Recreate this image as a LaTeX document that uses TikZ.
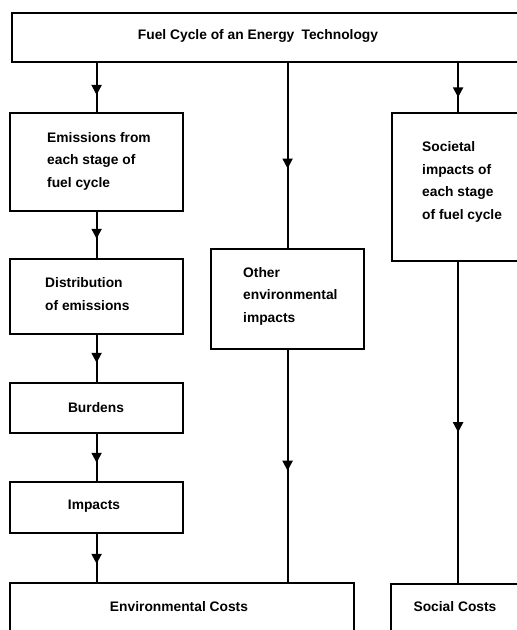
\documentclass[tikz,border=0pt]{standalone}
\usepackage{fontspec}
\setmainfont{Liberation Sans}
\usetikzlibrary{arrows.meta,decorations.markings}

\begin{document}
\begin{tikzpicture}[
  x=1pt, y=-1pt,
  box/.style={draw, line width=2.2pt, rectangle, inner sep=0pt},
  txt/.style={font=\bfseries\fontsize{13.8}{22.5}\selectfont, inner sep=0pt, align=left},
  conn/.style={line width=2pt},
  midarrow/.style={postaction={decorate},
    decoration={markings,
      mark=at position #1 with {\arrow{Triangle[width=10pt,length=10pt]}}}}
]
\useasboundingbox (0,0) rectangle (517,630);
\clip (0,0) rectangle (517,630);

% boxes (corner coordinates; some run past the page edge)
\node[box, minimum width=529pt, minimum height=49pt, anchor=north west] (fuel) at (11,12) {};
\node[box, minimum width=173pt, minimum height=98pt, anchor=north west] (emis) at (9,112) {};
\node[box, minimum width=173pt, minimum height=75pt, anchor=north west] (dist) at (9,258) {};
\node[box, minimum width=173pt, minimum height=50pt, anchor=north west] (burd) at (9,382) {};
\node[box, minimum width=173pt, minimum height=51pt, anchor=north west] (impc) at (9,481) {};
\node[box, minimum width=344pt, minimum height=70pt, anchor=north west] (envc) at (9,582) {};
\node[box, minimum width=153pt, minimum height=100pt, anchor=north west] (other) at (210,248) {};
\node[box, minimum width=132pt, minimum height=148pt, anchor=north west] (soc) at (391,112) {};
\node[box, minimum width=134pt, minimum height=70pt, anchor=north west] (socc) at (390,583) {};

% labels
\node[txt] (fuelT) at (258,36) {Fuel Cycle of an Energy\hspace{0.25em} Technology};
\node[txt, anchor=west] (emisT) at (47,161) {Emissions from\\each stage of\\fuel cycle};
\node[txt, anchor=west] (distT) at (45,294) {Distribution\\of emissions};
\node[txt] (burdT) at (96,408) {Burdens};
\node[txt] (impcT) at (94,506) {Impacts};
\node[txt, anchor=west] (otherT) at (243,296) {Other\\environmental\\impacts};
\node[txt, anchor=west] (socT) at (422,182) {Societal\\impacts of\\each stage\\of fuel cycle};
\node[txt] (envcT) at (179,607) {Environmental Costs};
\node[txt] (soccT) at (455,607) {Social Costs};

% connectors
\draw[conn, midarrow=0.65] (emis.north |- fuel.south) -- (emis.north);
\draw[conn, midarrow=0.58] (emis.south) -- (dist.north);
\draw[conn, midarrow=0.59] (dist.south) -- (burd.north);
\draw[conn, midarrow=0.61] (burd.south) -- (impc.north);
\draw[conn, midarrow=0.62] (impc.south) -- (impc.south |- envc.north);
\draw[conn, midarrow=0.57] (other.north |- fuel.south) -- (other.north);
\draw[conn, midarrow=0.52] (other.south) -- (other.south |- envc.north);
\draw[conn, midarrow=0.70] (soc.north |- fuel.south) -- (soc.north);
\draw[conn, midarrow=0.53] (soc.south) -- (socc.north);
\end{tikzpicture}
\end{document}
